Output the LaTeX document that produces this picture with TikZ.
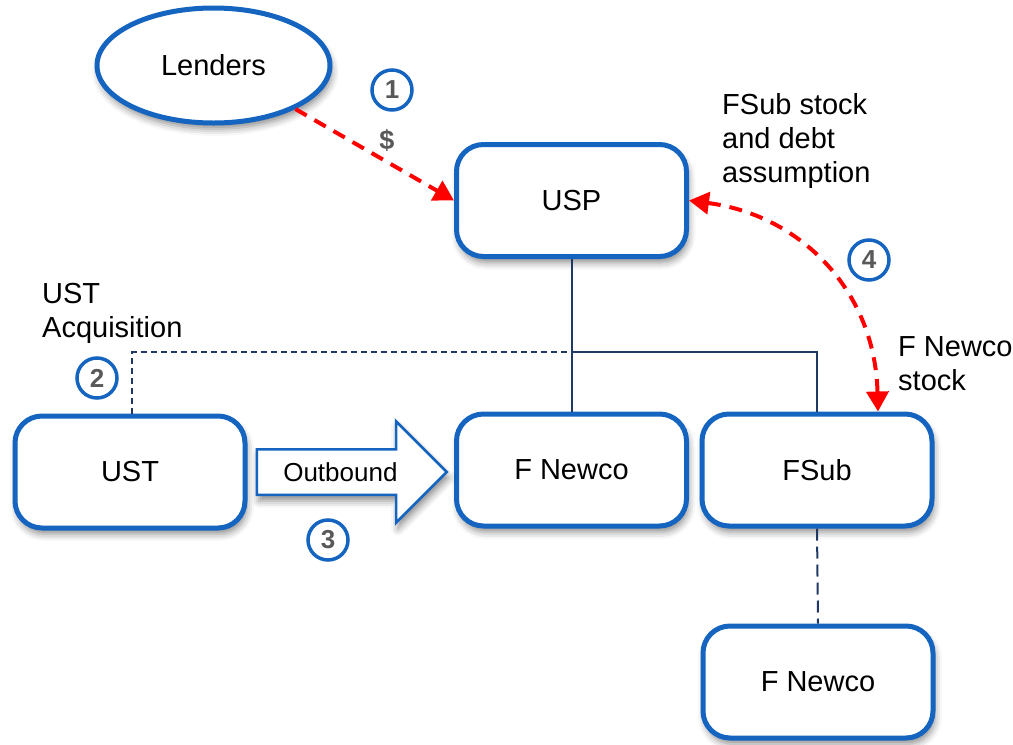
\documentclass[tikz,border=0pt]{standalone}
\usepackage{fontspec}
\setmainfont{Liberation Sans}
\usetikzlibrary{shapes.geometric,shapes.arrows,shadows.blur,arrows.meta}
\definecolor{boxblue}{RGB}{21,101,192}
\definecolor{linknavy}{RGB}{31,56,100}
\definecolor{numgray}{RGB}{89,89,89}
\tikzset{softshadow/.style={blur shadow={shadow xshift=2pt,shadow yshift=-6pt,shadow blur radius=7pt,shadow opacity=45}}}
\tikzset{entity/.style={rectangle, rounded corners=27pt, draw=boxblue, line width=5pt, fill=white,
      minimum width=230pt, minimum height=112pt, font=\fontsize{29}{35}\selectfont, softshadow}}
\tikzset{party/.style={ellipse, draw=boxblue, line width=5pt, fill=white,
      minimum width=233pt, minimum height=115pt, font=\fontsize{29}{35}\selectfont, softshadow}}
\tikzset{stepmark/.style={circle, draw=boxblue, line width=3.5pt, fill=white, minimum size=40pt, inner sep=0pt,
      text=numgray, font=\fontsize{26}{26}\selectfont\bfseries}}
\tikzset{note/.style={anchor=north west, inner sep=0pt, align=left, font=\fontsize{29}{34}\selectfont}}
\tikzset{flow/.style={draw=red, line width=4pt, dash pattern=on 13pt off 9pt}}
\tikzset{link/.style={draw=linknavy, line width=2pt}}
\tikzset{outflow/.style={single arrow, draw=boxblue, line width=2.5pt, fill=white, softshadow,
      minimum height=190pt, single arrow head extend=28pt, single arrow head indent=0pt,
      text height=19pt, text depth=0pt, inner ysep=12pt, font=\fontsize{26}{26}\selectfont}}

\begin{document}
\begin{tikzpicture}[x=1pt, y=-1pt]
    \useasboundingbox (0,0) rectangle (1013,745);
    % parties and entities
    \node[party] (lenders) at (213.5,65.5) {Lenders};
    \node[entity] (usp) at (571.5,200.5) {USP};
    \node[entity] (ust) at (130,472) {UST};
    \node[entity] (fnewco) at (571.5,470) {F Newco};
    \node[entity] (fsub) at (817,470) {FSub};
    \node[entity] (fnewcolow) at (818,682) {F Newco};
    \coordinate (bus) at (571.5,352);
    % ownership lines
    \draw[link] (usp.south) -- (fnewco.north);
    \draw[link] (bus) -| (fsub.north);
    \draw[link, dash pattern=on 6pt off 4pt] ([xshift=2pt]ust.north) |- (bus);
    \draw[link, dash pattern=on 12pt off 6pt] (fsub.south) -- (fnewcolow.north);
    % steps
    \draw[flow, -{Triangle[length=20pt,width=22pt]}] (lenders.-28) -- (usp.west);
    \draw[flow, {Triangle[length=20pt,width=22pt]}-{Triangle[length=20pt,width=22pt]}]
      (usp.east) .. controls (800,215) and (875,290) .. ([xshift=61pt]fsub.north);
    \node[outflow, anchor=tail] (outbound) at ([xshift=8pt]ust.east) {Outbound};
    \node[stepmark] (num1) at (392,90) {1};
    \node[stepmark] (num2) at (97,378) {2};
    \node[stepmark] (num3) at (328,540) {3};
    \node[stepmark] (num4) at (869,260) {4};
    \node[text=numgray, font=\fontsize{27}{27}\selectfont\bfseries] (cash) at (387,140) {\$};
    \node[note] (ustacq) at (42,283) {UST\\Acquisition};
    \node[note] (fsubnote) at (722,93) {FSub stock\\and debt\\assumption};
    \node[note] (fnewconote) at (898,336) {F Newco\\stock};
\end{tikzpicture}
\end{document}
